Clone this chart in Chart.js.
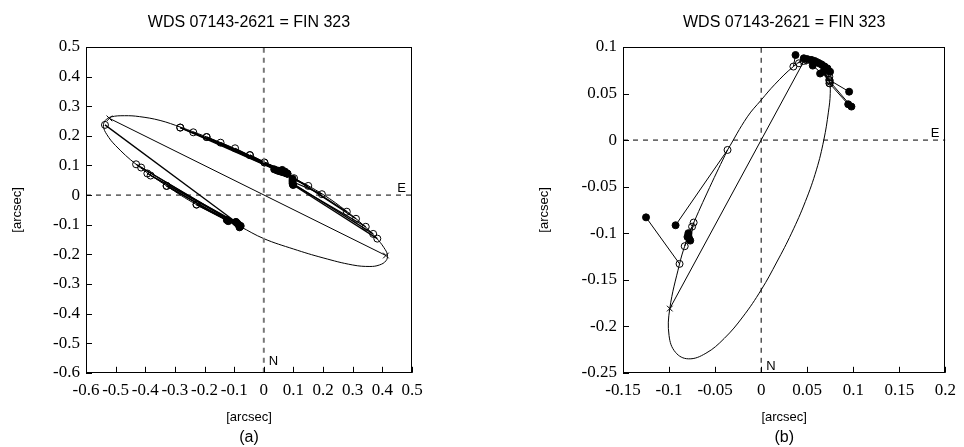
<!DOCTYPE html>
<html>
<head>
<meta charset="utf-8">
<script src="https://cdn.jsdelivr.net/npm/chart.js@4"></script>
<style>
  body { margin: 0; background: #fff; }
  .panel { position: absolute; top: 0; width: 482px; height: 447px; }
</style>
</head>
<body>
<div class="panel" style="left:0"><canvas id="chartA" width="482" height="447"></canvas></div>
<div class="panel" style="left:482px"><canvas id="chartB" width="482" height="447"></canvas></div>
<script>
// ---- panel (a) ----
const xTicksA = [-0.6, -0.5, -0.4, -0.3, -0.2, -0.1, 0, 0.1, 0.2, 0.3, 0.4, 0.5];
const yTicksA = [-0.6, -0.5, -0.4, -0.3, -0.2, -0.1, 0, 0.1, 0.2, 0.3, 0.4, 0.5];

// orbit ellipse
const ellAX = [0, 0.1, 0.2, 0.28, 0.34, 0.38, 0.405, 0.417, 0.412, 0.39, 0.358, 0.3, 0.2, 0.1, 0, -0.08, -0.227, -0.328, -0.431, -0.5, -0.53, -0.541, -0.535, -0.515, -0.47, -0.42, -0.35, -0.28, -0.2, -0.1, 0];
const ellAY = [0.110, 0.058, 0.002, -0.055, -0.105, -0.145, -0.177, -0.202, -0.222, -0.236, -0.241, -0.236, -0.212, -0.182, -0.147, -0.106, -0.032, 0.031, 0.104, 0.167, 0.205, 0.232, 0.252, 0.264, 0.268, 0.265, 0.252, 0.229, 0.199, 0.158, 0.110];

// computed positions (open circles) and observations (filled)
const calcAX = [-0.282, -0.238, -0.193, -0.146, -0.097, -0.047, 0.002, 0.002, -0.047, 0.102, 0.150, 0.196, 0.280, 0.311, 0.344, 0.369, 0.383, -0.431, -0.414, -0.393, -0.382, -0.328, -0.227, -0.536, -0.328, -0.227, -0.282, -0.193];
const calcAY = [0.228, 0.212, 0.196, 0.177, 0.158, 0.135, 0.110, 0.110, 0.135, 0.057, 0.031, 0.003, -0.056, -0.080, -0.107, -0.131, -0.147, 0.104, 0.093, 0.073, 0.066, 0.031, -0.032, 0.237, 0.031, -0.032, 0.228, 0.196];
const obsAX = [0.045, 0.050, 0.055, 0.060, 0.065, 0.070, 0.075, 0.035, 0.080, 0.097, 0.097, 0.097, 0.080, 0.078, 0.098, 0.097, 0.099, -0.080, -0.085, -0.094, -0.078, -0.125, -0.090, -0.094, -0.082, -0.120, 0.062, 0.072];
const obsAY = [0.083, 0.082, 0.080, 0.079, 0.077, 0.076, 0.074, 0.087, 0.072, 0.050, 0.055, 0.045, 0.072, 0.073, 0.036, 0.040, 0.034, -0.106, -0.100, -0.091, -0.104, -0.084, -0.095, -0.091, -0.109, -0.088, 0.085, 0.079];

const nodeAX = [-0.521, 0.412];
const nodeAY = [0.259, -0.204];

// ---- panel (b) ----
const xTicksB = [-0.15, -0.1, -0.05, 0, 0.05, 0.1, 0.15, 0.2];
const yTicksB = [-0.25, -0.2, -0.15, -0.1, -0.05, 0, 0.05, 0.1];

const ellBX = [-0.0365, -0.015, 0, 0.015, 0.035, 0.048, 0.06, 0.069, 0.074, 0.075, 0.073, 0.068, 0.06, 0.048, 0.033, 0.017, 0, -0.02, -0.04, -0.06, -0.079, -0.093, -0.1, -0.0992, -0.0886, -0.083, -0.075, -0.056, -0.0365];
const ellBY = [-0.0106, 0.025, 0.043, 0.06, 0.079, 0.087, 0.085, 0.078, 0.065, 0.05, 0.03, 0, -0.032, -0.066, -0.1, -0.131, -0.161, -0.19, -0.213, -0.229, -0.235, -0.228, -0.21, -0.181, -0.133, -0.114, -0.093, -0.051, -0.0106];

const calcBX = [-0.0886, -0.0365, -0.075, -0.083, -0.0733, -0.079, 0.035, 0.041, 0.046, 0.050, 0.055, 0.060, 0.064, 0.068, 0.071, 0.073, 0.074, 0.0741, 0.0745, 0.0741, 0.0741, 0.0745];
const calcBY = [-0.133, -0.0106, -0.093, -0.114, -0.0886, -0.102, 0.079, 0.0825, 0.085, 0.086, 0.086, 0.084, 0.082, 0.079, 0.076, 0.072, 0.068, 0.0645, 0.061, 0.0645, 0.061, 0.063];
const obsBX = [-0.125, -0.0929, -0.079, -0.080, -0.077, -0.078, 0.0373, 0.0463, 0.050, 0.054, 0.058, 0.062, 0.066, 0.069, 0.072, 0.0748, 0.064, 0.056, 0.068, 0.0955, 0.0945, 0.098];
const obsBY = [-0.083, -0.0915, -0.100, -0.104, -0.108, -0.106, 0.0914, 0.0879, 0.087, 0.086, 0.085, 0.083, 0.081, 0.079, 0.077, 0.0735, 0.0715, 0.080, 0.074, 0.052, 0.0385, 0.036];

const nodeBX = [-0.0992, 0.046];
const nodeBY = [-0.181, 0.084];

const titleText = 'WDS 07143-2621 = FIN 323';
const SANS = '"Liberation Sans", Arial, sans-serif';
const SERIF = '"Liberation Serif", "Times New Roman", serif';

function xy(xs, ys) { return xs.map((x, i) => ({ x: x, y: ys[i] })); }
function fmt(v) { return String(+v.toFixed(2)); }

// frame, inward tick marks and the E / N labels
const framePlugin = {
  id: 'frame',
  afterDatasetsDraw(chart, args, opts) {
    const { ctx, chartArea: a, scales: { x, y } } = chart;
    ctx.save();
    ctx.strokeStyle = '#000';
    ctx.lineWidth = 1;
    ctx.strokeRect(Math.round(a.left) + 0.5, Math.round(a.top) + 0.5, Math.round(a.width) - 1, Math.round(a.height) - 1);
    ctx.beginPath();
    x.ticks.forEach(t => {
      const px = Math.round(x.getPixelForValue(t.value)) + 0.5;
      ctx.moveTo(px, a.bottom); ctx.lineTo(px, a.bottom - 6);
    });
    y.ticks.forEach(t => {
      const py = Math.round(y.getPixelForValue(t.value)) + 0.5;
      ctx.moveTo(a.left, py); ctx.lineTo(a.left + 6, py);
    });
    ctx.stroke();
    ctx.fillStyle = '#000';
    ctx.font = '13px ' + SANS;
    ctx.textAlign = 'right';
    ctx.textBaseline = 'alphabetic';
    ctx.fillText('E', a.right - 6, y.getPixelForValue(0) - 3);
    ctx.textAlign = 'left';
    ctx.fillText('N', x.getPixelForValue(0) + 5, a.bottom - opts.nLift);
    ctx.restore();
  }
};

function buildChart(id, p) {
  const datasets = [];
  // axis lines through the origin
  datasets.push({ data: [{ x: 0, y: p.yTicks[0] }, { x: 0, y: p.yTicks[p.yTicks.length - 1] }],
    showLine: true, pointRadius: 0, borderColor: p.vColor, borderWidth: p.vWidth, borderDash: [5, 5] });
  datasets.push({ data: [{ x: p.xTicks[0], y: 0 }, { x: p.xTicks[p.xTicks.length - 1], y: 0 }],
    showLine: true, pointRadius: 0, borderColor: '#000', borderWidth: 1, borderDash: [5, 5] });
  // O-C residual segments
  p.obsX.forEach((ox, i) => {
    datasets.push({ data: [{ x: ox, y: p.obsY[i] }, { x: p.calcX[i], y: p.calcY[i] }],
      showLine: true, pointRadius: 0, borderColor: '#000', borderWidth: p.resWidth });
  });
  // orbit
  datasets.push({ data: xy(p.ellX, p.ellY), showLine: true, tension: 0.4, pointRadius: 0,
    borderColor: '#000', borderWidth: 1 });
  // line of nodes
  datasets.push({ data: xy(p.nodeX, p.nodeY), showLine: true, borderColor: '#000', borderWidth: 1,
    pointStyle: 'crossRot', pointRadius: 4, pointBorderColor: '#000', pointBorderWidth: 1 });
  // computed positions
  datasets.push({ data: xy(p.calcX, p.calcY), pointStyle: 'circle', pointRadius: 3.5,
    pointBackgroundColor: 'rgba(0,0,0,0)', pointBorderColor: '#000', pointBorderWidth: 1 });
  // observations
  datasets.push({ data: xy(p.obsX, p.obsY), pointStyle: 'circle', pointRadius: 3.5,
    pointBackgroundColor: '#000', pointBorderColor: '#000', pointBorderWidth: 1 });

  return new Chart(document.getElementById(id), {
    type: 'scatter',
    data: { datasets: datasets },
    options: {
      responsive: false,
      animation: false,
      events: [],
      layout: { padding: { left: p.padLeft, right: p.padRight, top: 0, bottom: 0 } },
      plugins: {
        legend: { display: false },
        tooltip: { enabled: false },
        title: { display: true, text: titleText, fullSize: false, color: '#000',
          font: { family: SANS, size: 16, weight: 'normal' }, padding: { top: 13.4, bottom: 14.4 } },
        subtitle: { display: true, text: p.label, position: 'bottom', fullSize: false, color: '#000',
          font: { family: SANS, size: 16, weight: 'normal' }, padding: { top: 0, bottom: 0 } },
        frame: { nLift: p.nLift }
      },
      scales: {
        x: {
          type: 'linear', min: p.xTicks[0], max: p.xTicks[p.xTicks.length - 1],
          afterBuildTicks: s => { s.ticks = p.xTicks.map(v => ({ value: v })); },
          grid: { display: false, drawTicks: false },
          border: { display: false },
          ticks: { color: '#000', padding: 8, maxRotation: 0, autoSkip: false,
            font: { family: SERIF, size: 17 }, callback: v => fmt(v) },
          title: { display: true, text: '[arcsec]', color: '#000',
            font: { family: SANS, size: 13 }, padding: { top: 0, bottom: 3 } }
        },
        y: {
          type: 'linear', min: p.yTicks[0], max: p.yTicks[p.yTicks.length - 1],
          afterBuildTicks: s => { s.ticks = p.yTicks.map(v => ({ value: v })); },
          afterFit: s => { s.width = p.yWidth; },
          grid: { display: false, drawTicks: false },
          border: { display: false },
          ticks: { color: '#000', padding: 6, autoSkip: false,
            font: { family: SERIF, size: 17 }, callback: v => fmt(v) },
          title: { display: true, text: '[arcsec]', color: '#000',
            font: { family: SANS, size: 13 }, padding: { top: 10, bottom: 0 } }
        }
      }
    },
    plugins: [framePlugin]
  });
}

buildChart('chartA', {
  xTicks: xTicksA, yTicks: yTicksA, ellX: ellAX, ellY: ellAY,
  calcX: calcAX, calcY: calcAY, obsX: obsAX, obsY: obsAY, nodeX: nodeAX, nodeY: nodeAY,
  label: '(a)', padLeft: 0, padRight: 70, yWidth: 86, vColor: '#777', vWidth: 2, nLift: 8, resWidth: 1.3
});
buildChart('chartB', {
  xTicks: xTicksB, yTicks: yTicksB, ellX: ellBX, ellY: ellBY,
  calcX: calcBX, calcY: calcBY, obsX: obsBX, obsY: obsBY, nodeX: nodeBX, nodeY: nodeBY,
  label: '(b)', padLeft: 45, padRight: 13, yWidth: 96, vColor: '#000', vWidth: 1, nLift: 3, resWidth: 1
});
</script>
</body>
</html>
